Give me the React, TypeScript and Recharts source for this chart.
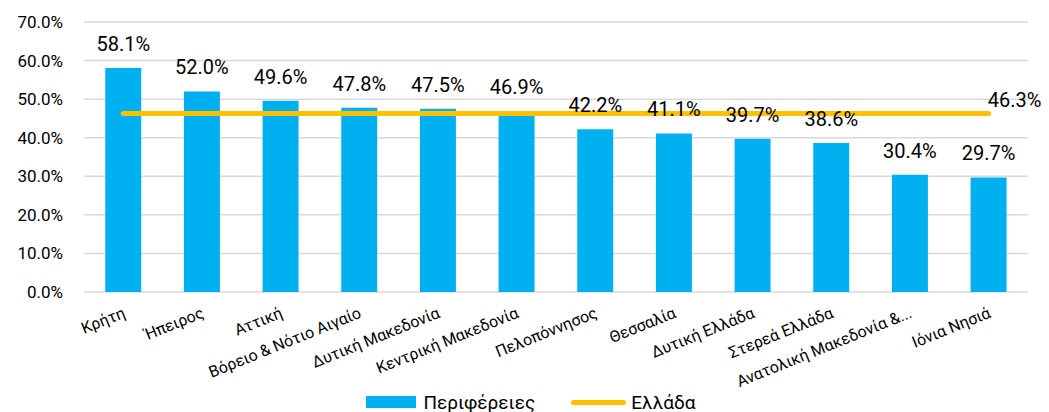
import {
  ComposedChart,
  Bar,
  Line,
  XAxis,
  YAxis,
  CartesianGrid,
  Legend,
  LabelList,
} from 'recharts'

const categories = [
  'Κρήτη',
  'Ήπειρος',
  'Αττική',
  'Βόρειο & Νότιο Αιγαίο',
  'Δυτική Μακεδονία',
  'Κεντρική Μακεδονία',
  'Πελοπόννησος',
  'Θεσσαλία',
  'Δυτική Ελλάδα',
  'Στερεά Ελλάδα',
  'Ανατολική Μακεδονία &...',
  'Ιόνια Νησιά',
]

const regionValues = [58.1, 52.0, 49.6, 47.8, 47.5, 46.9, 42.2, 41.1, 39.7, 38.6, 30.4, 29.7]
const greeceValues = [46.3, 46.3, 46.3, 46.3, 46.3, 46.3, 46.3, 46.3, 46.3, 46.3, 46.3, 46.3]
const yTicks = [0, 10, 20, 30, 40, 50, 60, 70]

const BLUE = '#00B0F0'
const YELLOW = '#FFC000'
const FONT = 'Roboto, "Open Sans", sans-serif'

const data = categories.map((name, i) => ({
  name,
  region: regionValues[i],
  greece: greeceValues[i],
}))

const pct = (v: number) => `${v.toFixed(1)}%`

function CategoryTick({ x, y, payload }: any) {
  const ax = x + 3
  const ay = y + 25
  return (
    <text
      x={ax}
      y={ay}
      transform={`rotate(-22 ${ax} ${ay})`}
      textAnchor="end"
      fontSize={16}
      fontFamily={FONT}
      fill="#000"
    >
      {payload.value}
    </text>
  )
}

function BarLabel({ x, y, width, value }: any) {
  return (
    <text
      x={x + width / 2}
      y={y - 24}
      dy="0.35em"
      textAnchor="middle"
      fontSize={20}
      fontFamily={FONT}
      fill="#000"
    >
      {pct(value)}
    </text>
  )
}

function LineLabel({ x, y, value, index }: any) {
  if (index !== categories.length - 1) return null
  return (
    <text x={x - 1} y={y - 13} dy="0.35em" textAnchor="start" fontSize={20} fontFamily={FONT} fill="#000">
      {pct(value)}
    </text>
  )
}

function LegendBox() {
  return (
    <div
      style={{
        display: 'flex',
        justifyContent: 'center',
        alignItems: 'center',
        fontFamily: FONT,
        fontSize: 19,
        color: '#000',
        height: 24,
        paddingLeft: 34,
      }}
    >
      <span style={{ display: 'inline-block', width: 50, height: 12, background: BLUE, marginRight: 7 }} />
      <span>Περιφέρειες</span>
      <span
        style={{
          display: 'inline-block',
          width: 55,
          height: 5,
          borderRadius: 3,
          background: YELLOW,
          marginLeft: 36,
          marginRight: 5,
        }}
      />
      <span>Ελλάδα</span>
    </div>
  )
}

export default function App() {
  return (
    <div style={{ position: 'absolute', left: 0, top: 0, width: 1049, height: 412, background: '#fff' }}>
      <ComposedChart
        width={1049}
        height={412}
        data={data}
        margin={{ top: 22, right: 21, left: 0, bottom: 0 }}
        barCategoryGap="27%"
      >
        <CartesianGrid vertical={false} stroke="#D9D9D9" strokeWidth={1.5} />
        <XAxis
          dataKey="name"
          axisLine={false}
          tickLine={false}
          tickSize={0}
          tickMargin={0}
          interval={0}
          height={96}
          tick={<CategoryTick />}
        />
        <YAxis
          domain={[0, 70]}
          ticks={yTicks}
          tickFormatter={pct}
          axisLine={false}
          tickLine={false}
          tickMargin={15}
          width={84}
          tick={{ fontSize: 17, fontFamily: FONT, fill: '#000' }}
        />
        <Legend verticalAlign="bottom" content={<LegendBox />} wrapperStyle={{ bottom: -2 }} />
        <Bar dataKey="region" name="Περιφέρειες" fill={BLUE} isAnimationActive={false}>
          <LabelList dataKey="region" content={<BarLabel />} />
        </Bar>
        <Line
          dataKey="greece"
          name="Ελλάδα"
          stroke={YELLOW}
          strokeWidth={5}
          strokeLinecap="round"
          dot={false}
          activeDot={false}
          isAnimationActive={false}
        >
          <LabelList dataKey="greece" content={<LineLabel />} />
        </Line>
      </ComposedChart>
    </div>
  )
}
